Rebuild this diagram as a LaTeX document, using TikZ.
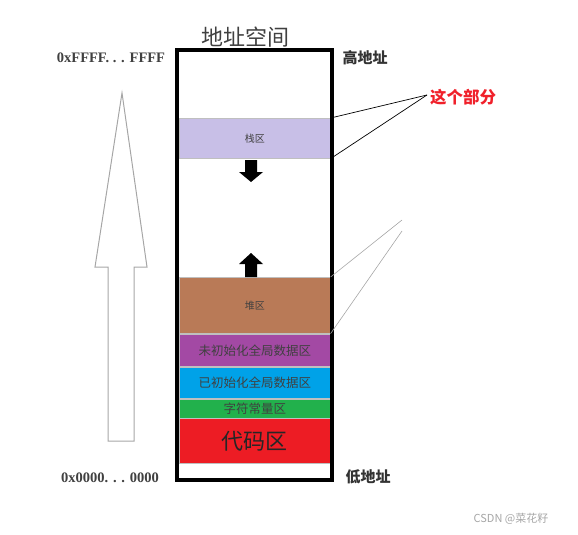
\documentclass[tikz,border=0pt]{standalone}
\usepackage{fontspec}
\newfontfamily\cjk{Noto Sans CJK SC}
\newfontfamily\hexfont{Liberation Serif}
\usetikzlibrary{positioning}

\definecolor{stackcol}{HTML}{C8BFE7}
\definecolor{heapcol}{HTML}{B97A57}
\definecolor{bsscol}{HTML}{A349A4}
\definecolor{datacol}{HTML}{00A2E8}
\definecolor{constcol}{HTML}{22B14C}
\definecolor{codecol}{HTML}{ED1C24}
\definecolor{notered}{HTML}{F0202A}

\tikzset{
	seg/.style={draw=gray!50, line width=0.6pt, anchor=north west,
		minimum width=151pt, inner sep=0pt, font=\cjk\fontsize{12.5}{12.5}\selectfont,
		text=black!75},
	addr/.style={font=\hexfont\bfseries\fontsize{14.5}{14.5}\selectfont, text=black!75},
	side/.style={font=\cjk\bfseries\fontsize{15}{15}\selectfont, text=black!80},
	growarrow/.style={fill=black, draw=none}
}

\begin{document}
\begin{tikzpicture}[x=1pt, y=-1pt]
	\useasboundingbox
		(0,0) rectangle (578,535);

	% segments, top to bottom
	\node [seg, fill=stackcol, minimum height=40pt,
		font=\cjk\fontsize{10}{10}\selectfont] (stack) at (179,118) {栈区};
	\node [seg, fill=heapcol, minimum height=56pt,
		font=\cjk\fontsize{10}{10}\selectfont] (heap) at (179,277) {堆区};
	\node [seg, fill=bsscol, minimum height=32pt] (bss) at (179,334) {未初始化全局数据区};
	\node [seg, fill=datacol, minimum height=31pt] (data) at (179,367) {已初始化全局数据区};
	\node [seg, fill=constcol, minimum height=19pt] (const) at (179,399) {字符常量区};
	\node [seg, fill=codecol, minimum height=45pt,
		font=\cjk\fontsize{22}{22}\selectfont, text=black!85] (code) at (179,418) {代码区};

	% frame of the address space
	\draw
		[line width=3.5pt] (177,50) rectangle (332,480);

	\node at (245,37) [font=\cjk\fontsize{22}{22}\selectfont, text=black!75] (title) {地址空间};

	% stack grows down, heap grows up
	\draw [growarrow]
		(245,160) -- (257,160) -- (257,172) -- (263,172) -- (251,182)
		-- (239,172) -- (245,172) -- cycle;

	\draw [growarrow]
		(245,277) -- (257,277) -- (257,264) -- (263,264) -- (251,253)
		-- (239,264) -- (245,264) -- cycle;

	% big hollow arrow
	\draw
		[draw=gray!70, line width=1pt, line join=miter]
		(122,93) -- (147,267) -- (134,267) -- (134,441) -- (108,441)
		-- (108,267) -- (95,267) -- cycle;

	\node at (111,58) [addr] (hi) {0xFFFF. . . FFFF};
	\node at (110,478) [addr] (lo) {0x0000. . . 0000};

	\node at (365,58) [side] (high) {高地址};
	\node at (368,477) [side] (low) {低地址};

	% note on the stack
	\node at (463,97) [font=\cjk\bfseries\fontsize{16.5}{16.5}\selectfont, text=notered] (note) {这个部分};
	\coordinate (tip) at (427,95);
	\draw
		[line width=0.7pt] (stack.north east) -- (tip);
	\draw
		[line width=0.7pt] (stack.south east) -- (tip);

	% same note for the heap, cut off
	\coordinate (tipa) at (402,220);
	\coordinate (tipb) at (402,231);
	\draw
		[gray!70, line width=0.6pt] (heap.north east) -- (tipa);
	\draw
		[gray!70, line width=0.6pt] (heap.south east) -- (tipb);

	\node at (511,519) [font=\cjk\fontsize{11}{11}\selectfont, text=gray!70] (mark) {CSDN @菜花籽};
\end{tikzpicture}
\end{document}
